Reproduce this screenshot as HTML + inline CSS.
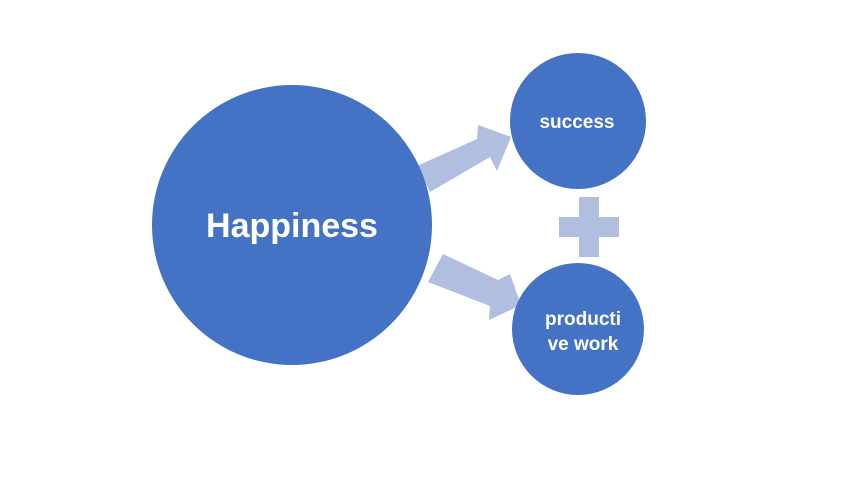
<!DOCTYPE html>
<html><head><style>body{margin:0;background:#fff}</style></head><body>
<svg width="864" height="486" xmlns="http://www.w3.org/2000/svg" style="display:block">
<rect width="864" height="486" fill="#fff"/>
<polygon points="417,166 477,139 478,125 511,137 497,171 490,157 430,192" fill="#B0BEE0"/>
<polygon points="443,254 498,280 510,274 521,305 489,320 490,306 428,282" fill="#B0BEE0"/>
<circle cx="292" cy="225" r="140" fill="#4472C4"/>
<circle cx="578" cy="121" r="68" fill="#4472C4"/>
<circle cx="578" cy="329" r="66" fill="#4472C4"/>
<rect x="559" y="217" width="60" height="20" fill="#B0BEE0"/>
<rect x="579" y="197" width="20" height="60" fill="#B0BEE0"/>
<g font-family="Liberation Sans, sans-serif" font-weight="bold" fill="#fff" text-anchor="middle">
<text x="292" y="237" font-size="34">Happiness</text>
<text x="577" y="128" font-size="19">success</text>
<text x="583" y="325" font-size="19">producti</text>
<text x="583" y="350" font-size="19">ve work</text>
</g>
</svg>
</body></html>
